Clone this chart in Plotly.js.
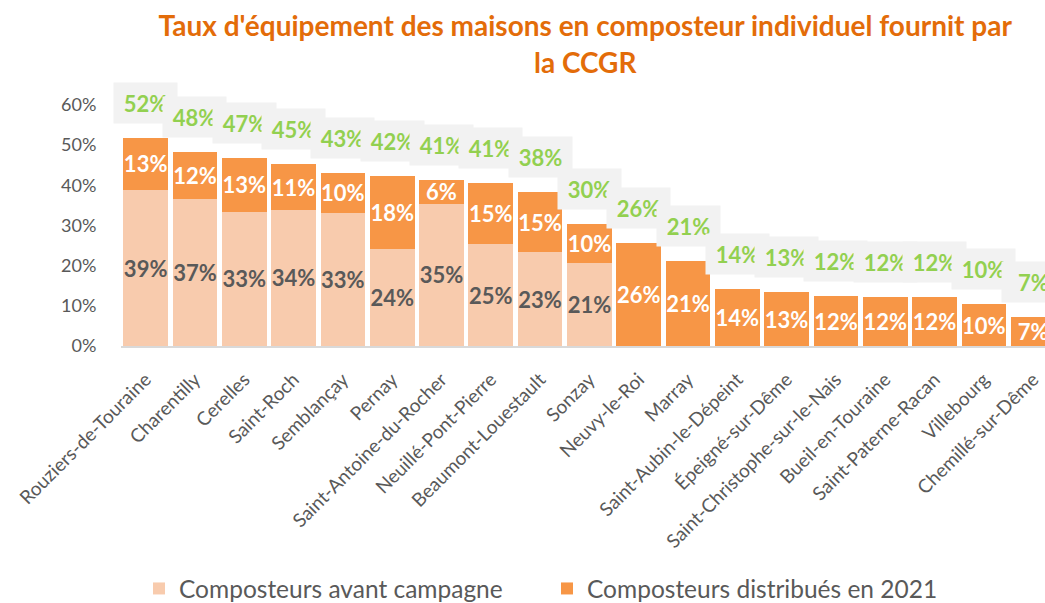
<!DOCTYPE html>
<html>
<head>
<meta charset="utf-8">
<script src="https://cdn.plot.ly/plotly-3.0.1.min.js"></script>
<style>
  html, body { margin: 0; padding: 0; background: #fff; overflow: hidden; }
  #plot { width: 1045px; height: 603px; }
</style>
</head>
<body>
<div id="plot"></div>
<script>
// Communes, sorted by total equipment rate
var communes = ["Rouziers-de-Touraine", "Charentilly", "Cerelles", "Saint-Roch", "Semblançay",
  "Pernay", "Saint-Antoine-du-Rocher", "Neuillé-Pont-Pierre", "Beaumont-Louestault", "Sonzay",
  "Neuvy-le-Roi", "Marray", "Saint-Aubin-le-Dépeint", "Épeigné-sur-Dême",
  "Saint-Christophe-sur-le-Nais", "Bueil-en-Touraine", "Saint-Paterne-Racan", "Villebourg",
  "Chemillé-sur-Dême"];

// % of houses equipped before the campaign
var avantCampagne = [38.8, 36.6, 33.4, 33.9, 33.1, 24.1, 35.4, 25.3, 23.4, 20.7,
  0, 0, 0, 0, 0, 0, 0, 0, 0];

// % of houses equipped with composters distributed in 2021
var distribues2021 = [13.1, 11.6, 13.4, 11.3, 10.0, 18.3, 5.9, 15.4, 14.9, 9.7,
  25.6, 21.2, 14.1, 13.4, 12.4, 12.3, 12.3, 10.4, 7.3];

var totals = communes.map((c, i) => avantCampagne[i] + distribues2021[i]);
var pct = v => v > 0 ? Math.round(v) + "%" : "";

var font = "Lato, sans-serif";

var trace1 = {
  x: communes,
  y: avantCampagne,
  name: "Composteurs avant campagne",
  type: "bar",
  marker: {color: "#F8CBAD"},
  text: avantCampagne.map(pct),
  textposition: "inside",
  insidetextanchor: "middle",
  textangle: 0,
  textfont: {family: font, size: 22, color: "#595959", weight: "bold"},
  hoverinfo: "skip"
};

var trace2 = {
  x: communes,
  y: distribues2021,
  name: "Composteurs distribués en 2021",
  type: "bar",
  marker: {color: "#F79646"},
  text: distribues2021.map(pct),
  textposition: "inside",
  insidetextanchor: "middle",
  textangle: 0,
  textfont: {family: font, size: 22, color: "#FFFFFF", weight: "bold"},
  hoverinfo: "skip"
};

// total labels above each bar, grey boxes
var totalLabels = communes.map((c, i) => ({
  x: c,
  y: totals[i],
  xref: "x",
  yref: "y",
  text: "<b>" + Math.round(totals[i]) + "%</b>",
  showarrow: false,
  yanchor: "bottom",
  yshift: 14,
  width: 59,
  height: 36,
  borderpad: 2,
  bgcolor: "#F2F2F2",
  font: {family: font, size: 22, color: "#92D050"}
}));

var layout = {
  width: 1045,
  height: 603,
  margin: {l: 121, r: 0, t: 105, b: 257, autoexpand: false},
  barmode: "stack",
  bargap: 0.093,
  paper_bgcolor: "#FFFFFF",
  plot_bgcolor: "#FFFFFF",
  showlegend: true,
  title: {
    text: "<b>Taux d'équipement des maisons en composteur individuel fournit par<br>la CCGR</b>",
    font: {family: font, size: 28, color: "#E36C09"},
    x: 0.56,
    xanchor: "center",
    yref: "container",
    y: 0.94,
    yanchor: "top"
  },
  xaxis: {
    type: "category",
    range: [-0.5, 18.24],
    tickangle: -45,
    tickfont: {family: font, size: 19, color: "#595959"},
    showline: true,
    linecolor: "#D9D9D9",
    linewidth: 2,
    ticks: "outside",
    ticklen: 13,
    tickcolor: "rgba(0,0,0,0)",
    automargin: false,
    fixedrange: true
  },
  yaxis: {
    range: [0, 60],
    dtick: 10,
    ticksuffix: "%",
    showgrid: false,
    zeroline: false,
    ticks: "outside",
    ticklen: 20,
    tickcolor: "rgba(0,0,0,0)",
    tickfont: {family: font, size: 18, color: "#595959"},
    automargin: false,
    fixedrange: true
  },
  legend: {
    orientation: "h",
    xref: "container",
    x: 0.133,
    xanchor: "left",
    yref: "container",
    y: 0.024,
    yanchor: "middle",
    traceorder: "normal",
    entrywidth: 363,
    font: {family: font, size: 24.5, color: "#595959"}
  },
  uniformtext: {mode: "show", minsize: 22},
  annotations: totalLabels
};

Plotly.newPlot("plot", [trace1, trace2], layout, {displayModeBar: false, staticPlot: true});
</script>
</body>
</html>
